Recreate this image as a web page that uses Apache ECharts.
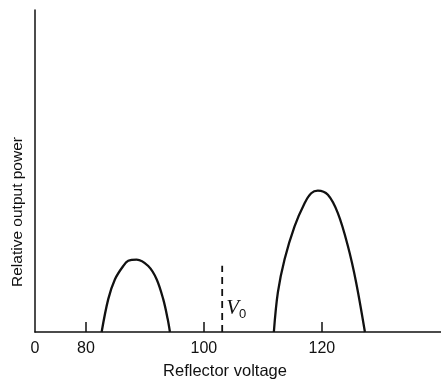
<!DOCTYPE html>
<html>
<head>
<meta charset="utf-8">
<script src="https://cdn.jsdelivr.net/npm/echarts@6/dist/echarts.min.js"></script>
<style>html,body{margin:0;padding:0;background:#fff}#c{width:441px;height:385px}</style>
</head>
<body>
<div id="c"></div>
<script>
// Reflector voltage (V) and relative output power for the two reflex-klystron modes
var leftModeV  = [82.66, 83.78, 84.92, 86.32, 87.17, 88.59, 90.56, 91.98, 93.10, 93.85, 94.24];
var leftModeP  = [0, 10.2, 16.4, 20.5, 22.1, 22.5, 20.5, 16.4, 10.2, 4.1, 0];
var rightModeV = [111.86, 112.54, 113.68, 115.37, 117.07, 118.19, 119.32, 121.02, 122.71, 124.41, 125.81, 127.3];
var rightModeP = [0, 12.3, 22.6, 32.8, 40.0, 43.1, 43.9, 42.6, 36.9, 26.7, 15.4, 0];
var v0Voltage = 103.1;
var v0Height = 20.6;
var xTickValues = [80, 100, 120];
var xTickLabels = ['80', '100', '120'];
var xOriginLabel = '0';
var xMin = 71.36, xMax = 140.2;

function pairs(xs, ys){ return xs.map(function(x,i){ return [x, ys[i]]; }); }

var chart = echarts.init(document.getElementById('c'), null, {renderer:'canvas'});
var ink = '#111';
var font = '"Liberation Sans", Arial, sans-serif';
chart.setOption({
  animation:false,
  backgroundColor:'#fff',
  grid:{left:35, right:0, top:10, bottom:50},
  xAxis:{
    type:'value', min:xMin, max:xMax,
    name:'Reflector voltage', nameLocation:'middle', nameGap:31,
    nameTextStyle:{color:ink, fontSize:16.5, fontFamily:font, padding:[0,26,0,0]},
    axisLine:{show:true, onZero:false, lineStyle:{color:ink, width:1.5}},
    axisTick:{show:true, inside:true, length:10, customValues:xTickValues, lineStyle:{color:ink, width:1.5}},
    axisLabel:{show:true, color:ink, fontSize:16, fontFamily:font, margin:9,
      customValues:[xMin].concat(xTickValues),
      formatter:function(v){ if (v < 75) return xOriginLabel; var i = xTickValues.indexOf(v); return i>=0 ? xTickLabels[i] : ''; }},
    splitLine:{show:false}
  },
  yAxis:{
    type:'value', min:0, max:100,
    name:'Relative output power', nameLocation:'middle', nameGap:9,
    nameTextStyle:{color:ink, fontSize:15.5, fontFamily:font, padding:[0,82,0,0]},
    axisLine:{show:true, lineStyle:{color:ink, width:1.5}},
    axisTick:{show:false}, axisLabel:{show:false}, splitLine:{show:false}
  },
  series:[
    {type:'line', data:pairs(leftModeV, leftModeP), smooth:0.35, symbol:'none',
     lineStyle:{color:ink, width:2.3}},
    {type:'line', data:pairs(rightModeV, rightModeP), smooth:0.35, symbol:'none',
     lineStyle:{color:ink, width:2.3}},
    {type:'line', data:[[v0Voltage,0],[v0Voltage,v0Height]], symbol:'none',
     lineStyle:{color:ink, width:1.8, type:[7,5]},
     markPoint:{symbol:'circle', symbolSize:0, silent:true,
       data:[{coord:[v0Voltage, 7.2]}],
       label:{show:true, position:'right', distance:4,
         formatter:'{v|V}{s|0}',
         rich:{v:{fontStyle:'italic', fontSize:21, fontFamily:'"Liberation Serif", serif', color:ink},
               s:{fontSize:13, fontFamily:font, color:ink, padding:[11,0,0,0]}}}}}
  ]
});
</script>
</body>
</html>
